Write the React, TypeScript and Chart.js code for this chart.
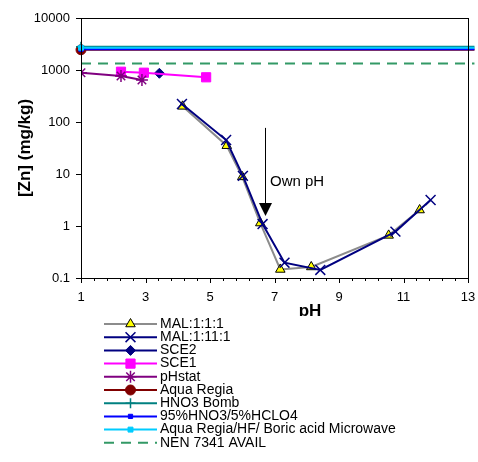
import React, { useEffect, useRef } from 'react';
import { Chart, registerables } from 'chart.js';
import { drawPoint } from 'chart.js/helpers';

Chart.register(...registerables);

const FONT = '"Liberation Sans", Arial, Helvetica, sans-serif';

// ---- data ----
const MAL111_PH = [4.15, 5.52, 6.0, 6.56, 7.18, 8.14, 10.54, 11.5];
const MAL111_ZN = [200, 35, 8.8, 1.14, 0.146, 0.163, 0.66, 2.03];
const MAL1111_PH = [4.13, 5.5, 6.02, 6.63, 7.31, 8.42, 10.75, 11.84];
const MAL1111_ZN = [222, 45, 9.2, 1.09, 0.197, 0.143, 0.78, 3.16];
const SCE2_PH = [3.43];
const SCE2_ZN = [865];
const SCE1_PH = [2.24, 2.95, 4.88];
const SCE1_ZN = [927, 887, 724];
const PHSTAT_PH = [1.0, 2.24, 2.89];
const PHSTAT_ZN = [887, 767, 642];
const HORIZ_PH = [1, 13.2];
const AQUA_REGIA_ZN = [2450, 2450];
const HNO3_BOMB_ZN = [2800, 2800];
const HNO3_HCLO4_ZN = [2500, 2500];
const AR_HF_ZN = [2680, 2680];
const NEN_ZN = [1340, 1340];

const X_MIN = 1;
const X_MAX = 13;
const X_MAJOR = 2;
const X_MINOR = 0.4;
const Y_TICKS = [0.1, 1, 10, 100, 1000, 10000];
const Y_LABELS = ['0.1', '1', '10', '100', '1000', '10000'];
const X_TITLE = 'pH';
const Y_TITLE = '[Zn] (mg/kg)';

const ARROW_PH = 6.71;
const ARROW_TOP_ZN = 77;
const ARROW_TIP_ZN = 1.56;
const NOTE_PH = 6.86;
const NOTE_ZN = 7.1;
const NOTE_TEXT = 'Own pH';

type Series = {
  label: string;
  ph: number[];
  zn: number[];
  color: string;
  width: number;
  dash?: number[];
  pointStyle: any;
  radius: number;
  bg: string;
  border: string;
  pbw: number;
  firstOnly?: boolean;
};

const SERIES: Series[] = [
  { label: 'MAL:1:1:1', ph: MAL111_PH, zn: MAL111_ZN, color: '#8c8c8c', width: 2, pointStyle: 'triangle', radius: 5.5, bg: '#ffff00', border: '#000000', pbw: 1 },
  { label: 'MAL:1:11:1', ph: MAL1111_PH, zn: MAL1111_ZN, color: '#000080', width: 2, pointStyle: 'crossRot', radius: 7, bg: '#000080', border: '#000080', pbw: 1.5 },
  { label: 'SCE2', ph: SCE2_PH, zn: SCE2_ZN, color: '#000080', width: 2, pointStyle: 'rectRot', radius: 5, bg: '#000080', border: '#000080', pbw: 1 },
  { label: 'SCE1', ph: SCE1_PH, zn: SCE1_ZN, color: '#ff00ff', width: 2, pointStyle: 'rect', radius: 6.5, bg: '#ff00ff', border: '#ff00ff', pbw: 1 },
  { label: 'pHstat', ph: PHSTAT_PH, zn: PHSTAT_ZN, color: '#800080', width: 2, pointStyle: 'star', radius: 6, bg: '#800080', border: '#800080', pbw: 1.5 },
  { label: 'Aqua Regia', ph: HORIZ_PH, zn: AQUA_REGIA_ZN, color: '#800000', width: 2, pointStyle: 'circle', radius: 5, bg: '#800000', border: '#800000', pbw: 1, firstOnly: true },
  { label: 'HNO3 Bomb', ph: HORIZ_PH, zn: HNO3_BOMB_ZN, color: '#008080', width: 2, pointStyle: 'cross', radius: 5, bg: '#008080', border: '#008080', pbw: 1.5, firstOnly: true },
  { label: '95%HNO3/5%HCLO4', ph: HORIZ_PH, zn: HNO3_HCLO4_ZN, color: '#0000ff', width: 2, pointStyle: 'rect', radius: 3, bg: '#0000ff', border: '#0000ff', pbw: 1, firstOnly: true },
  { label: 'Aqua Regia/HF/ Boric acid Microwave', ph: HORIZ_PH, zn: AR_HF_ZN, color: '#00ccff', width: 2, pointStyle: 'rect', radius: 3.5, bg: '#00ccff', border: '#00ccff', pbw: 1, firstOnly: true },
  { label: 'NEN 7341 AVAIL', ph: HORIZ_PH, zn: NEN_ZN, color: '#339966', width: 2, dash: [10, 7], pointStyle: false, radius: 0, bg: '#339966', border: '#339966', pbw: 0 },
];

const decoPlugin = {
  id: 'deco',
  afterDraw(chart: any) {
    const { ctx, chartArea: a, scales } = chart;
    const xs = scales.x;
    const ys = scales.y;
    ctx.save();
    // plot frame
    ctx.strokeStyle = '#000';
    ctx.lineWidth = 1;
    ctx.strokeRect(Math.round(a.left) + 0.5, Math.round(a.top) + 0.5, Math.round(a.right - a.left), Math.round(a.bottom - a.top));
    // y ticks
    ctx.beginPath();
    for (const v of Y_TICKS) {
      const py = Math.round(ys.getPixelForValue(v)) + 0.5;
      ctx.moveTo(a.left - 5, py);
      ctx.lineTo(a.left, py);
    }
    // x ticks (major + minor)
    const n = Math.round((X_MAX - X_MIN) / X_MINOR);
    const perMajor = Math.round(X_MAJOR / X_MINOR);
    for (let i = 0; i <= n; i++) {
      const v = X_MIN + i * X_MINOR;
      const px = Math.round(xs.getPixelForValue(v)) + 0.5;
      const len = i % perMajor === 0 ? 5 : 3;
      ctx.moveTo(px, a.bottom);
      ctx.lineTo(px, a.bottom + len);
    }
    ctx.stroke();

    // y title
    ctx.fillStyle = '#000';
    ctx.save();
    ctx.translate(25, (a.top + a.bottom) / 2);
    ctx.rotate(-Math.PI / 2);
    ctx.font = `bold 17px ${FONT}`;
    ctx.textAlign = 'center';
    ctx.textBaseline = 'middle';
    ctx.fillText(Y_TITLE, 0, 0);
    ctx.restore();

    // arrow annotation
    const ax = Math.round(xs.getPixelForValue(ARROW_PH)) + 0.5;
    const aTop = ys.getPixelForValue(ARROW_TOP_ZN);
    const aTip = ys.getPixelForValue(ARROW_TIP_ZN);
    ctx.beginPath();
    ctx.moveTo(ax, aTop);
    ctx.lineTo(ax, aTip - 12);
    ctx.stroke();
    ctx.beginPath();
    ctx.moveTo(ax - 6.5, aTip - 13);
    ctx.lineTo(ax + 6.5, aTip - 13);
    ctx.lineTo(ax, aTip);
    ctx.closePath();
    ctx.fill();
    ctx.font = `15px ${FONT}`;
    ctx.textAlign = 'left';
    ctx.textBaseline = 'middle';
    ctx.fillText(NOTE_TEXT, xs.getPixelForValue(NOTE_PH), ys.getPixelForValue(NOTE_ZN));

    // x title
    ctx.font = `bold 17px ${FONT}`;
    ctx.textAlign = 'center';
    ctx.textBaseline = 'alphabetic';
    ctx.fillText(X_TITLE, 310, 316);

    // legend box (white, covers the title's descender)
    ctx.fillStyle = '#fff';
    ctx.fillRect(98, 316, 330, 136);

    const lx0 = 104;
    const lx1 = 157;
    const lmx = 130.5;
    SERIES.forEach((s, i) => {
      const yy = 324 + i * 13.2;
      ctx.save();
      ctx.strokeStyle = s.color;
      ctx.lineWidth = s.width;
      ctx.setLineDash(s.dash || []);
      ctx.beginPath();
      ctx.moveTo(lx0, yy);
      ctx.lineTo(lx1, yy);
      ctx.stroke();
      ctx.setLineDash([]);
      if (s.pointStyle) {
        ctx.fillStyle = s.bg;
        ctx.strokeStyle = s.border;
        ctx.lineWidth = s.pbw;
        drawPoint(ctx, { pointStyle: s.pointStyle, radius: s.radius, rotation: 0, borderWidth: s.pbw }, lmx, yy);
      }
      ctx.restore();
      ctx.fillStyle = '#000';
      ctx.font = `14px ${FONT}`;
      ctx.textAlign = 'left';
      ctx.textBaseline = 'middle';
      ctx.fillText(s.label, 160, yy);
    });
    ctx.restore();
  },
};

export default function App() {
  const ref = useRef<HTMLCanvasElement>(null);
  useEffect(() => {
    if (!ref.current) return;
    const datasets = SERIES.map((s, i) => ({
      label: s.label,
      data: s.ph.map((x, k) => ({ x, y: s.zn[k] })),
      borderColor: s.color,
      backgroundColor: s.bg,
      borderWidth: s.width,
      borderDash: s.dash || [],
      pointStyle: s.pointStyle,
      pointRadius: s.firstOnly ? (c: any) => (c.dataIndex === 0 ? s.radius : 0) : s.radius,
      pointHoverRadius: s.firstOnly ? (c: any) => (c.dataIndex === 0 ? s.radius : 0) : s.radius,
      pointBackgroundColor: s.bg,
      pointBorderColor: s.border,
      pointBorderWidth: s.pbw,
      showLine: true,
      tension: 0,
      order: 100 - i,
      clip: s.firstOnly || s.dash ? false : undefined,
    }));
    const chart = new Chart(ref.current, {
      type: 'scatter',
      data: { datasets },
      options: {
        animation: false,
        responsive: false,
        devicePixelRatio: 1,
        layout: { padding: { left: 0, top: 18, right: 10, bottom: 0 } },
        plugins: { legend: { display: false }, tooltip: { enabled: false } },
        scales: {
          x: {
            type: 'linear',
            min: X_MIN,
            max: X_MAX,
            grid: { display: false, drawTicks: false },
            border: { display: false },
            ticks: {
              stepSize: X_MAJOR,
              padding: 12,
              maxRotation: 0,
              autoSkip: false,
              color: '#000',
              font: { family: FONT, size: 13 },
            },
            afterFit: (sc: any) => {
              sc.height = 184;
              sc.paddingLeft = 0;
              sc.paddingRight = 0;
            },
          },
          y: {
            type: 'logarithmic',
            min: 0.1,
            max: 10000,
            grid: { display: false, drawTicks: false },
            border: { display: false },
            afterBuildTicks: (sc: any) => { sc.ticks = Y_TICKS.map((v) => ({ value: v })); },
            ticks: {
              padding: 11,
              color: '#000',
              font: { family: FONT, size: 13 },
              callback: (v: any) => {
                const idx = Y_TICKS.findIndex((t) => Math.abs(t - Number(v)) / t < 1e-6);
                return idx >= 0 ? Y_LABELS[idx] : '';
              },
            },
            afterFit: (sc: any) => {
              sc.width = 81;
              sc.paddingTop = 0;
              sc.paddingBottom = 0;
            },
          },
        },
      },
      plugins: [decoPlugin],
    });
    return () => chart.destroy();
  }, []);
  return (
    <div style={{ position: 'absolute', left: 0, top: 0, width: 478, height: 462, background: '#fff' }}>
      <canvas ref={ref} width={478} height={462} style={{ width: 478, height: 462, display: 'block' }} />
    </div>
  );
}
